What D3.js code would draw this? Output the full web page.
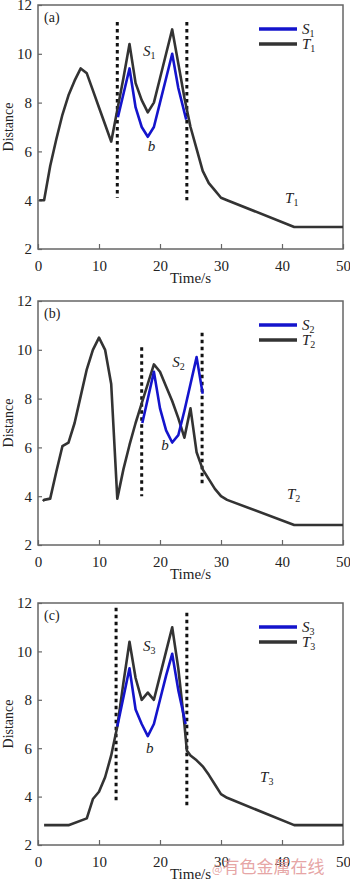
<!DOCTYPE html>
<html><head><meta charset="utf-8">
<script src="https://cdn.jsdelivr.net/npm/d3@7"></script>
<style>body{margin:0;background:#fff}svg{display:block}</style>
</head><body>
<script>
// ---- data ----
const xTicks = [0,10,20,30,40,50];
const yTicks = [2,4,6,8,10,12];
const panelLabels = ["(a)","(b)","(c)"];
const sNames = ["1","2","3"];

const T1 = [[0.2,4],[1,4],[2,5.4],[3,6.5],[4,7.5],[5,8.3],[6,8.9],[7,9.4],[8,9.2],[9,8.5],[10,7.8],[11,7.1],[12,6.4],[13,7.7],[14,9.0],[15,10.4],[16,8.8],[17,8.1],[18,7.6],[19,8.0],[20,9.0],[21,10.0],[22,11.0],[23,9.6],[24,8.2],[25,7.0],[26,6.1],[27,5.2],[28,4.7],[29,4.4],[30,4.1],[31,4.0],[42,2.9],[50,2.9]];
const S1 = [[13.1,7.4],[15,9.4],[16,7.8],[17,7.0],[18,6.6],[19,7.0],[20,8.0],[21,9.0],[22,10.0],[23,8.6],[24.3,7.3]];
const T2 = [[0.8,3.8],[1,3.85],[2,3.9],[3,5.0],[4,6.05],[5,6.2],[6,7.0],[7,8.1],[8,9.2],[9,10.0],[10,10.5],[11,10.0],[12,8.6],[13,3.9],[14,5.1],[15,6.1],[16,7.0],[17,7.8],[18,8.6],[19,9.4],[20,9.1],[21,8.5],[22,7.9],[23,7.2],[24,6.4],[25,7.6],[26,5.8],[27,5.1],[28,4.7],[29,4.3],[30,4.0],[31,3.85],[42,2.82],[50,2.82]];
const S2 = [[17.1,7.0],[19,9.1],[20,7.6],[21,6.7],[22,6.2],[23,6.5],[24,7.5],[25,8.6],[26,9.7],[27,8.2]];
const T3 = [[1,2.82],[5,2.82],[8,3.1],[9,3.9],[10,4.2],[11,4.8],[12,5.7],[13,6.9],[14,8.7],[15,10.4],[16,8.9],[17,8.0],[18,8.3],[19,8.0],[20,9.0],[21,10.0],[22,11.0],[23,9.3],[24,7.0],[24.4,5.9],[25,5.7],[26,5.5],[27,5.25],[28,4.9],[29,4.5],[30,4.1],[31,3.95],[42,2.82],[50,2.82]];
const S3 = [[13,6.9],[15,9.3],[16,7.6],[17,7.0],[18,6.5],[19,7.0],[20,8.0],[21,9.0],[22,9.9],[23,8.4],[24.2,7.0]];
// dotted boundaries: [t, yTop, yBottom]
const D1 = [[13.0,11.3,4.1],[24.4,11.3,4.0]];
const D2 = [[17.0,10.1,4.0],[26.9,10.7,4.4]];
const D3 = [[12.8,11.8,3.7],[24.4,11.6,3.6]];
// annotations [text, sub, t, v]
const A1 = [["S","1",17.2,9.9],["b","",18.0,6.0],["T","1",40.5,3.9]];
const A2 = [["S","2",22.0,9.3],["b","",20.2,5.9],["T","2",40.8,3.9]];
const A3 = [["S","3",17.2,10.0],["b","",17.7,5.8],["T","3",36.4,4.6]];

const panels = [
  {T:T1,S:S1,D:D1,A:A1,top:5,bottom:249},
  {T:T2,S:S2,D:D2,A:A2,top:301,bottom:545},
  {T:T3,S:S3,D:D3,A:A3,top:603,bottom:845}
];

const W=350,H=881;
const serif="'Liberation Serif','Times New Roman',serif";
const svg = d3.select("body").append("svg").attr("width",W).attr("height",H)
  .style("font-family",serif);
const x = d3.scaleLinear().domain([0,50]).range([38,343]);
const black="#333", blue="#1414cc";

panels.forEach((p,i)=>{
  const y = d3.scaleLinear().domain([2,12]).range([p.bottom,p.top]);
  const g = svg.append("g");
  // frame
  g.append("rect").attr("x",x(0)).attr("y",p.top).attr("width",x(50)-x(0)).attr("height",p.bottom-p.top)
    .attr("fill","none").attr("stroke","#666").attr("stroke-width",1.5);
  // axes
  const xa = g.append("g").attr("transform",`translate(0,${p.bottom})`)
    .call(d3.axisBottom(x).tickValues(xTicks).tickSizeInner(-5).tickSizeOuter(0).tickPadding(8));
  const ya = g.append("g").attr("transform",`translate(${x(0)},0)`)
    .call(d3.axisLeft(y).tickValues(yTicks).tickSizeInner(-4).tickSizeOuter(0).tickPadding(6));
  [xa,ya].forEach(a=>{
    a.attr("font-family",serif);
    a.select(".domain").remove();
    a.selectAll("line").attr("stroke","#666").attr("stroke-width",1.2);
    a.selectAll("text").attr("font-size",15).attr("fill","#222").attr("font-family",serif);
  });
  xa.selectAll("text").attr("dy","0.9em");
  // axis titles
  g.append("text").attr("x",(x(0)+x(50))/2).attr("y",p.bottom+34).attr("text-anchor","middle")
    .attr("font-size",15).attr("fill","#222").text("Time/s");
  g.append("text").attr("transform",`translate(13,${(p.top+p.bottom)/2}) rotate(-90)`)
    .attr("text-anchor","middle").attr("font-size",14).attr("fill","#222").text("Distance");
  // panel label
  g.append("text").attr("x",x(0)+6).attr("y",p.top+17).attr("font-size",14).attr("fill","#222").text(panelLabels[i]);

  const line = d3.line().x(d=>x(d[0])).y(d=>y(d[1]));
  // dotted boundaries
  g.selectAll(".dl").data(p.D).join("line")
    .attr("x1",d=>x(d[0])).attr("x2",d=>x(d[0])).attr("y1",d=>y(d[1])).attr("y2",d=>y(d[2]))
    .attr("stroke","#111").attr("stroke-width",3).attr("stroke-dasharray","3.5,3.5");
  g.append("path").attr("d",line(p.T)).attr("fill","none").attr("stroke",black).attr("stroke-width",2.6).attr("stroke-linejoin","round");
  g.append("path").attr("d",line(p.S)).attr("fill","none").attr("stroke",blue).attr("stroke-width",2.6).attr("stroke-linejoin","round");

  // annotations
  p.A.forEach(a=>{
    const t = g.append("text").attr("x",x(a[2])).attr("y",y(a[3])).attr("font-size",15).attr("font-style","italic").attr("fill","#222");
    t.append("tspan").text(a[0]);
    if(a[1]) t.append("tspan").attr("font-size",10).attr("font-style","normal").attr("dy",3).text(a[1]);
  });

  // legend
  const ly = p.top + 24;
  [[blue,"S"],[black,"T"]].forEach((l,k)=>{
    const yy = ly + k*15;
    g.append("line").attr("x1",259).attr("x2",297).attr("y1",yy).attr("y2",yy).attr("stroke",l[0]).attr("stroke-width",3.5);
    const t = g.append("text").attr("x",302).attr("y",yy+5).attr("font-size",15).attr("font-style","italic").attr("fill","#222");
    t.append("tspan").text(l[1]);
    t.append("tspan").attr("font-size",10).attr("font-style","normal").attr("dy",3).text(sNames[i]);
  });
});

// watermark
const wm = svg.append("text").attr("x",212).attr("y",873).attr("fill","#e39a9a").attr("fill-opacity",0.9)
  .attr("font-family","'Noto Sans CJK SC',sans-serif");
wm.append("tspan").attr("font-size",11).text("@");
wm.append("tspan").attr("font-size",17).text("有色金属在线");
</script>
</body></html>
